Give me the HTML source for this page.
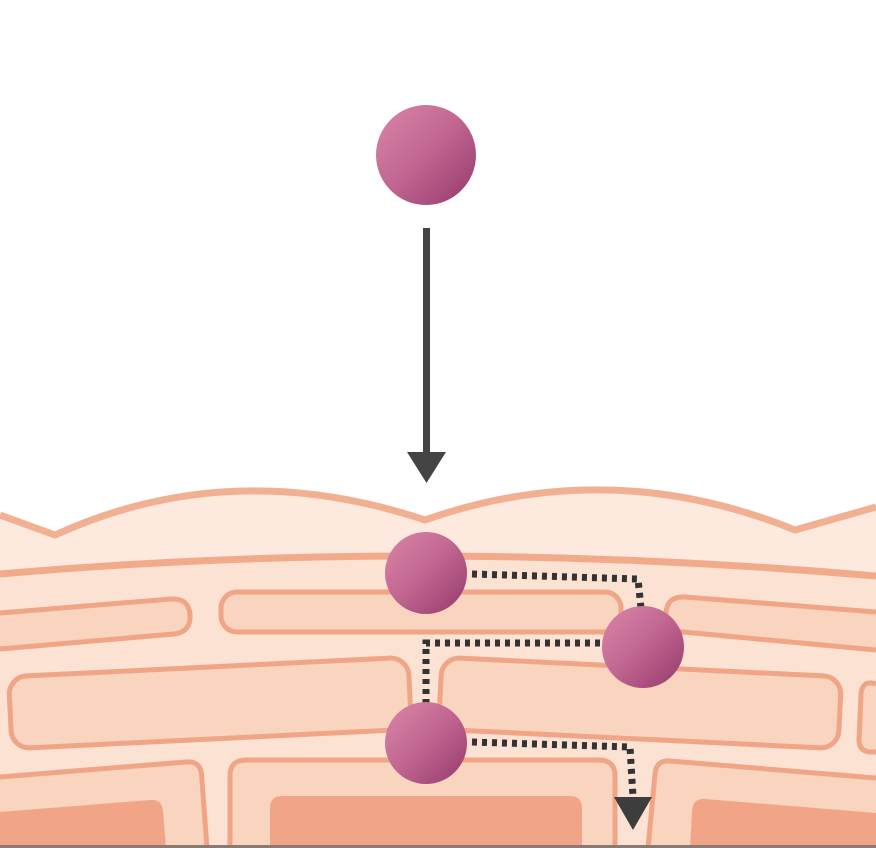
<!DOCTYPE html>
<html><head><meta charset="utf-8"><style>html,body{margin:0;padding:0;background:#fff;width:876px;height:848px;overflow:hidden}svg{display:block;overflow:hidden}</style></head>
<body>
<svg width="876" height="848" viewBox="0 0 876 848" xmlns="http://www.w3.org/2000/svg">
<defs>
<linearGradient id="g" x1="0" y1="0" x2="1" y2="1">
<stop offset="0" stop-color="#db86a8"/><stop offset="0.5" stop-color="#c06590"/><stop offset="1" stop-color="#94386c"/>
</linearGradient>
</defs>
<rect width="876" height="848" fill="#fff"/>
<path d="M 0,515 L 55,535 Q 230,455 425,520 Q 610,455 795,530 L 876,507 L 876,848 L 0,848 Z" fill="#fde9de"/>
<path d="M 0,515 L 55,535 Q 230,455 425,520 Q 610,455 795,530 L 876,507" fill="none" stroke="#f1b091" stroke-width="7" stroke-linejoin="round"/>
<path d="M 0,574 Q 426,537 876,576 L 876,848 L 0,848 Z" fill="#fce2d3"/>
<path d="M 0,574 Q 426,537 876,576" fill="none" stroke="#f1ab8b" stroke-width="7"/>
<g fill="#f9d4bf">
<path d="M 0,613 L 171,599 Q 189,598 190,615 Q 191,632 174,634 L 0,649 Z"/>
<path d="M 876,612 L 685,597 Q 667,596 666,613 Q 665,630 683,632 L 876,650 Z"/>
<path d="M 876,684 L 872,683 Q 862,682 861,694 L 859,740 Q 859,751 870,752 L 876,752 Z"/>
<path d="M 0,848 V 777 L 186,762 Q 200,760.5 201.5,774 L 207,848 Z"/>
<path d="M 230,848 V 776 Q 230,760 246,760 H 599 Q 615,760 615,776 V 848 Z"/>
<path d="M 648,848 L 655,774 Q 656,760 670,761 L 876,778 V 848 Z"/>
</g>
<g fill="none" stroke="#f0a586" stroke-width="5">
<path d="M 0,613 L 171,599 Q 189,598 190,615 Q 191,632 174,634 L 0,649"/>
<path d="M 876,612 L 685,597 Q 667,596 666,613 Q 665,630 683,632 L 876,650"/>
<path d="M 876,684 L 872,683 Q 862,682 861,694 L 859,740 Q 859,751 870,752 L 876,752"/>
<path d="M 0,777 L 186,762 Q 200,760.5 201.5,774 L 207,848"/>
<path d="M 230,848 V 776 Q 230,760 246,760 H 599 Q 615,760 615,776 V 848"/>
<path d="M 648,848 L 655,774 Q 656,760 670,761 L 876,778"/>
</g>
<g fill="#f9d4bf" stroke="#f0a586" stroke-width="5">
<rect x="221" y="592" width="400" height="40" rx="16"/>
<rect x="10" y="667" width="400" height="72" rx="18" transform="rotate(-2.8 210 703)"/>
<rect x="440" y="667" width="400" height="72" rx="18" transform="rotate(2.8 640 703)"/>
</g>
<g fill="#f1a586">
<path d="M 0,848 V 812 L 150,800 Q 162,799 163,811 L 166,848 Z"/>
<path d="M 270,848 V 808 Q 270,796 282,796 H 570 Q 582,796 582,808 V 848 Z"/>
<path d="M 690,848 L 692,811 Q 693,798 705,799 L 876,813 V 848 Z"/>
</g>
<rect x="0" y="845" width="876" height="3" fill="#8a7a74"/>
<g fill="none" stroke="#333" stroke-width="7" stroke-dasharray="5 5">
<path d="M 472,574 L 638,579 L 641,608"/>
<path d="M 600,643 L 426,643 L 426,705"/>
<path d="M 472,742 L 630,747 L 633,797"/>
</g>
<polygon points="614,797 652,797 633,830" fill="#3d3d3d"/>
<rect x="423" y="228" width="7" height="228" fill="#444"/>
<polygon points="407,452 446,452 426.5,483" fill="#444"/>
<circle cx="426" cy="155" r="50" fill="url(#g)"/>
<circle cx="426" cy="573" r="41" fill="url(#g)"/>
<circle cx="643" cy="647" r="41" fill="url(#g)"/>
<circle cx="426" cy="743" r="41" fill="url(#g)"/>
</svg>
</body></html>
